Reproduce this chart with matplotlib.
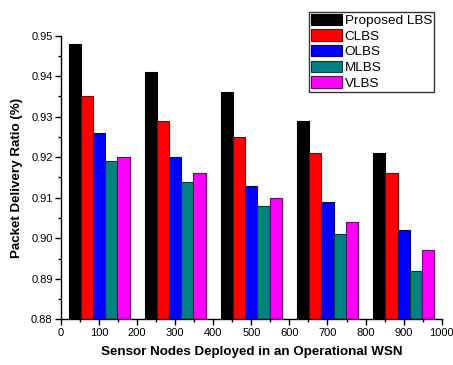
import matplotlib
matplotlib.use("Agg")
import matplotlib.pyplot as plt
import numpy as np
from matplotlib.ticker import MultipleLocator

plt.rcParams['font.family'] = ['Liberation Sans', 'DejaVu Sans']

# network sizes and delivery ratio per scheme
nodes = [100, 300, 500, 700, 900]
schemes = ['Proposed LBS', 'CLBS', 'OLBS', 'MLBS', 'VLBS']
pdr = {
    'Proposed LBS': [0.948, 0.941, 0.936, 0.929, 0.921],
    'CLBS':         [0.935, 0.929, 0.925, 0.921, 0.916],
    'OLBS':         [0.926, 0.920, 0.913, 0.909, 0.902],
    'MLBS':         [0.919, 0.914, 0.908, 0.901, 0.892],
    'VLBS':         [0.920, 0.916, 0.910, 0.904, 0.897],
}
colors = ['#000000', '#FF0000', '#0000FF', '#008080', '#FF00FF']
edges = ['#000000', '#7a0000', '#00006e', '#003a3a', '#6e006e']

fig = plt.figure(figsize=(4.53, 3.65), dpi=100)
ax = fig.add_axes([0.1347, 0.1252, 0.8403, 0.777])

w = 32
x = np.array(nodes)
for i, s in enumerate(schemes):
    off = (i - 2) * w
    ax.bar(x + off, np.array(pdr[s]) - 0.88, width=w, bottom=0.88,
           color=colors[i], edgecolor=edges[i], linewidth=0.8, label=s)

ax.set_xlim(0, 1000)
ax.set_ylim(0.88, 0.95)
ax.xaxis.set_major_locator(MultipleLocator(100))
ax.xaxis.set_minor_locator(MultipleLocator(50))
ax.yaxis.set_major_locator(MultipleLocator(0.01))
ax.yaxis.set_minor_locator(MultipleLocator(0.005))
ax.yaxis.set_major_formatter(matplotlib.ticker.FormatStrFormatter('%.2f'))

for sp in ['top', 'right']:
    ax.spines[sp].set_visible(False)
for sp in ['left', 'bottom']:
    ax.spines[sp].set_linewidth(1.0)
ax.tick_params(which='major', direction='out', length=4, width=1, labelsize=8, pad=2)
ax.tick_params(which='minor', direction='out', length=2.5, width=1)

ax.set_xlabel('Sensor Nodes Deployed in an Operational WSN', fontsize=9.6, fontweight='bold', labelpad=6)
ax.set_ylabel('Packet Delivery Ratio (%)', fontsize=9.6, fontweight='bold', labelpad=6)

leg = ax.legend(loc='upper right', bbox_to_anchor=(0.958, 0.968),
                bbox_transform=fig.transFigure, fontsize=9.7, fancybox=False,
                framealpha=1, edgecolor='#333333', borderpad=0.15,
                labelspacing=0.18, handlelength=2.3, handleheight=0.9,
                handletextpad=0.2, borderaxespad=0)
leg.get_frame().set_linewidth(1.0)

fig.savefig('out.png', dpi=100)
